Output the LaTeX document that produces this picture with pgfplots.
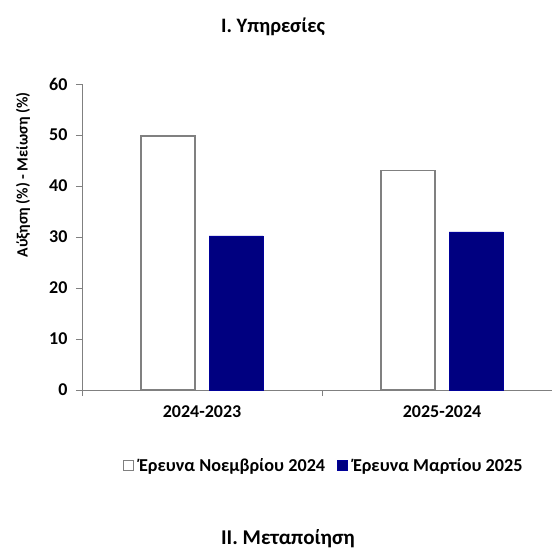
\documentclass[border=0pt]{standalone}
\usepackage{pgfplots}
\pgfplotsset{compat=1.18}
\usepackage{fontspec}
\setmainfont{Carlito}
\definecolor{navybar}{RGB}{0,0,128}
\definecolor{axgray}{RGB}{128,128,128}
\pgfplotstableread{
x nov mar
0 49.8 30.2
1 43.0 31.0
}\datatable
\begin{document}
\begin{tikzpicture}[x=1pt,y=1pt]
\begin{axis}[
  at={(82pt,160pt)}, anchor=south west,
  width=480pt, height=306pt, scale only axis,
  xmin=-0.5, xmax=1.5, ymin=0, ymax=60,
  axis x line=bottom, axis y line=left,
  axis line style={-, draw=axgray, line width=1pt},
  ytick={0,10,20,30,40,50,60},
  xtick={-0.5,0.5,1.5}, xticklabels={},
  extra x ticks={0,1},
  extra x tick labels={2024-2023,2025-2024},
  extra x tick style={major tick length=0pt, tick label style={yshift=-12pt}},
  tick align=outside, major tick length=6pt,
  tick style={draw=axgray, line width=1pt},
  tick label style={font=\fontsize{18}{21}\selectfont\bfseries},
  yticklabel style={xshift=-5pt},
  /pgf/number format/assume math mode=true,
  ybar, bar width=0.225,
  legend columns=2,
  legend style={draw=none, at={(0.504,-0.248)}, anchor=center,
    font=\fontsize{18.2}{21}\selectfont\bfseries,
    /tikz/every odd column/.append style={column sep=3pt},
    /tikz/every even column/.append style={column sep=10pt}},
  legend image code/.code={\draw[#1, line width=0.8pt] (0pt,-5pt) rectangle (10pt,5pt);},
  clip=false,
]
\addplot[bar shift=-0.1417, fill=white, draw=axgray, line width=1.3pt] table[x=x,y=nov]{\datatable};
\addlegendentry{Έρευνα Νοεμβρίου 2024}
\addplot[bar shift=0.1417, fill=navybar, draw=navybar!80!blue, line width=0.6pt] table[x=x,y=mar]{\datatable};
\addlegendentry{Έρευνα Μαρτίου 2025}
\end{axis}
\node[rotate=90, font=\fontsize{15.7}{18}\selectfont\bfseries] at (23,375) {Αύξηση (\%) - Μείωση (\%)};
\node[font=\fontsize{20.5}{24}\selectfont\bfseries] at (273,523) {I. Υπηρεσίες};
\node[font=\fontsize{21}{24}\selectfont\bfseries] at (288,11) {II. Μεταποίηση};
\pgfresetboundingbox
\path (0,0) rectangle (552,550);
\end{tikzpicture}
\end{document}
